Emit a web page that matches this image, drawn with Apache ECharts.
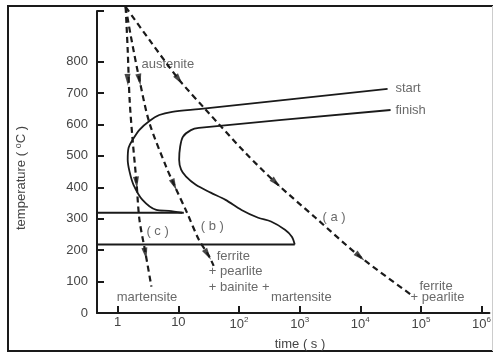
<!DOCTYPE html>
<html>
<head>
<meta charset="utf-8">
<script src="https://cdn.jsdelivr.net/npm/echarts@6/dist/echarts.min.js"></script>
<style>
html,body{margin:0;height:100%;background:#fff;}
#main{width:494px;height:353px;}
</style>
</head>
<body>
<div id="main"></div>
<script>
// times in seconds, temperatures in degC
var tMin = 0.455, tMax = 1.35e6, yMax = 961;
var xTickExp = [0, 1, 2, 3, 4, 5, 6];
var yTicks = [0, 100, 200, 300, 400, 500, 600, 700, 800];

var startTime = [11.5, 7.0, 4.33, 2.56, 1.82, 1.57, 1.46, 1.51, 1.76, 2.28, 3.33, 4.84, 7.9, 21.7, 28200];
var startTemp = [319, 325, 328, 360, 408, 449, 488, 526, 551, 583, 611, 630, 640, 649, 713];
var finishTime = [31600, 21.8, 16.1, 11.9, 10.7, 10.3, 11.1, 13.4, 19.4, 34.1, 60, 110, 207, 337, 573, 744, 830];
var finishTemp = [646, 589, 582, 561, 529, 488, 456, 434, 408, 383, 360, 328, 303, 291, 265, 243, 218];
var bsTime = [tMin, 12.3], bsTemp = [319, 319];
var msTime = [tMin, 830], msTemp = [218, 218];

var cTime = [1.35, 1.46, 1.57, 1.76, 2.04, 2.28, 2.86, 3.59];
var cTemp = [974, 837, 678, 551, 415, 297, 192, 84];
var bTime = [1.35, 1.63, 2.28, 3.33, 6.3, 8.5, 13.9, 21.8, 31.7, 38.2];
var bTemp = [974, 885, 742, 605, 465, 408, 319, 233, 183, 150];
var aTime = [1.35, 3.33, 10.3, 28.3, 127, 407, 1830, 9930, 72600];
var aTemp = [974, 869, 742, 647, 510, 414, 303, 179, 55];

var arrowTime = {c: [1.46, 2.04, 2.86], b: [2.28, 8.5, 30.5], a: [10.3, 407, 9930]};
var arrowTemp = {c: [742, 415, 189], b: [742, 408, 186], a: [742, 414, 179]};

var noteText = ['austenite', 'start', 'finish', '( c )', '( b )', '( a )', 'ferrite', '+ pearlite', '+ bainite +',
    'martensite', 'martensite', 'ferrite', '+ pearlite'];
var noteTime = [2.46, 38000, 38000, 2.97, 23.4, 2380, 42.8, 31.7, 31.7, 336, 0.96, 94400, 67600];
var noteTemp = [790, 715, 646, 259, 275, 303, 180, 133, 82, 50, 50, 85, 50];

function pts(ts, vs) {
    return ts.map(function (t, i) { return [Math.log10(t), vs[i]]; });
}

var ink = '#1a1a1a', grey = '#444';
var paths = {c: pts(cTime, cTemp), b: pts(bTime, bTemp), a: pts(aTime, aTemp)};

function solid(data, smooth) {
    return {type: 'line', data: data, smooth: smooth, showSymbol: false, clip: false, silent: true,
        lineStyle: {color: ink, width: 1.8}};
}
function dashed(data) {
    return {type: 'line', data: data, smooth: 0.3, showSymbol: false, clip: false, silent: true,
        lineStyle: {color: ink, width: 2.2, type: [6, 4]}};
}

var myChart = echarts.init(document.getElementById('main'));
var option = {
    animation: false,
    grid: {left: 97, right: 0, top: 11, bottom: 40},
    xAxis: {
        type: 'value', min: Math.log10(tMin), max: Math.log10(tMax),
        splitLine: {show: false},
        axisLine: {onZero: false, lineStyle: {color: ink, width: 2}},
        axisTick: {inside: true, length: 7, customValues: xTickExp, lineStyle: {color: ink, width: 2}},
        axisLabel: {
            customValues: xTickExp, margin: 3, color: grey, fontSize: 13, fontFamily: 'Liberation Sans',
            formatter: function (v) {
                if (v === 0) return '1';
                if (v === 1) return '10';
                return '{b|10}{s|' + v + '}';
            },
            rich: {
                b: {fontSize: 13, color: grey, fontFamily: 'Liberation Sans', lineHeight: 16},
                s: {fontSize: 8, color: grey, fontFamily: 'Liberation Sans', verticalAlign: 'top', lineHeight: 10}
            }
        }
    },
    yAxis: {
        type: 'value', min: 0, max: yMax,
        splitLine: {show: false},
        axisLine: {onZero: false, lineStyle: {color: ink, width: 2}},
        axisTick: {inside: true, length: 7, customValues: yTicks.concat([yMax]), lineStyle: {color: ink, width: 2}},
        axisLabel: {customValues: yTicks, margin: 9, color: grey, fontSize: 13, fontFamily: 'Liberation Sans'}
    },
    graphic: [
        {type: 'polyline', shape: {points: [[493, 6], [8, 6], [8, 351], [493, 351]]},
            style: {stroke: ink, lineWidth: 2, fill: null}},
        {type: 'line', shape: {x1: 492.5, y1: 6, x2: 492.5, y2: 351}, style: {stroke: '#ccc', lineWidth: 1}},
        {type: 'text', x: 21, y: 178, rotation: Math.PI / 2,
            style: {text: 'temperature ( {s|o}C )', fill: grey, fontSize: 13, fontFamily: 'Liberation Sans',
                align: 'center', verticalAlign: 'middle',
                rich: {s: {fontSize: 9, fill: grey, verticalAlign: 'top', lineHeight: 10}}}},
        {type: 'text', x: 300, y: 344,
            style: {text: 'time ( s )', fill: grey, fontSize: 13, fontFamily: 'Liberation Sans',
                align: 'center', verticalAlign: 'middle'}}
    ],
    series: [
        solid(pts(startTime, startTemp), 0.3),
        solid(pts(finishTime, finishTemp), 0.3),
        solid(pts(bsTime, bsTemp), false),
        solid(pts(msTime, msTemp), false),
        dashed(paths.c),
        dashed(paths.b),
        dashed(paths.a),
        {
            type: 'scatter', symbolSize: 0, silent: true,
            data: noteText.map(function (s, i) { return {value: [Math.log10(noteTime[i]), noteTemp[i]], name: s}; }),
            label: {show: true, position: [0, 0], align: 'left', verticalAlign: 'middle',
                formatter: '{b}', color: grey, fontSize: 13, fontFamily: 'Liberation Sans'}
        }
    ]
};
myChart.setOption(option);

// arrow heads: triangles turned along the path they sit on
var arrows = [];
['c', 'b', 'a'].forEach(function (k) {
    var p = paths[k];
    arrowTime[k].forEach(function (t, j) {
        var T = arrowTemp[k][j];
        var i = 0;
        while (i < p.length - 2 && p[i + 1][1] > T) i++;
        var p0 = myChart.convertToPixel({gridIndex: 0}, p[i]);
        var p1 = myChart.convertToPixel({gridIndex: 0}, p[i + 1]);
        var ang = Math.atan2(p1[1] - p0[1], p1[0] - p0[0]) * 180 / Math.PI;
        arrows.push({value: [Math.log10(t), T], symbolRotate: -(ang + 90)});
    });
});
myChart.setOption({
    series: option.series.concat([{
        type: 'scatter', symbol: 'triangle', symbolSize: [6, 12], silent: true,
        itemStyle: {color: ink}, data: arrows
    }])
});
</script>
</body>
</html>
